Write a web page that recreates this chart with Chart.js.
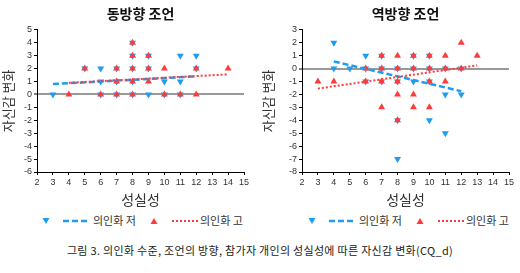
<!DOCTYPE html>
<html>
<head>
<meta charset="utf-8">
<script src="https://cdn.jsdelivr.net/npm/chart.js@4.4.1/dist/chart.umd.min.js"></script>
<style>
  body { margin:0; background:#fff; width:520px; height:273px; position:relative; overflow:hidden;
         font-family:"Noto Sans CJK KR","Noto Sans",sans-serif; color:#222; }
  .box { position:absolute; top:0; width:260px; height:210px; }
  .lg { position:absolute; top:212px; height:16px; font-size:11px; line-height:16px; color:#333; white-space:nowrap; }
  .cap { position:absolute; top:242px; left:0; width:520px; text-align:center; font-size:11px; color:#222; letter-spacing:0.3px; }
</style>
</head>
<body>
<div class="box" style="left:0"><canvas id="same"></canvas></div>
<div class="box" style="left:260px"><canvas id="opp"></canvas></div>

<div id="legend1"></div>
<div id="legend2"></div>
<div class="cap">그림 3. 의인화 수준, 조언의 방향, 참가자 개인의 성실성에 따른 자신감 변화(CQ_d)</div>

<script>
// 성실성 (x) / 자신감 변화 (y)
const titles = ['동방향 조언', '역방향 조언'];
const seriesNames = ['의인화 저', '의인화 고'];

// 동방향 조언
const sameLowX  = [3,5,6,6,6,7,7,7,8,8,8,8,8,9,9,9,10,10,11,11,11,12,12];
const sameLowY  = [0,2,2,1,0,2,1,0,4,3,2,1,0,3,2,0,1,0,3,1,0,3,2];
const sameHighX = [4,5,6,7,7,7,8,8,8,8,8,9,9,9,10,10,11,12,12,14];
const sameHighY = [0,2,0,2,1,0,4,3,2,1,0,3,2,1,2,0,0,2,0,2];
const sameTrendLowX  = [3, 12];
const sameTrendLowY  = [0.8, 1.4];
const sameTrendHighX = [4, 14];
const sameTrendHighY = [0.9, 1.55];

// 역방향 조언
const oppLowX  = [4,4,5,6,6,6,7,7,7,8,8,8,8,9,9,9,10,10,10,10,11,11,11,12,12];
const oppLowY  = [2,0,0,1,0,-1,1,0,-1,0,-1,-4,-7,1,0,-1,1,0,-1,-4,0,-2,-5,0,-2];
const oppHighX = [3,4,6,6,7,7,7,7,8,8,8,8,8,9,9,9,9,10,10,10,10,11,11,11,12,12,13];
const oppHighY = [-1,-1,0,-1,1,0,-1,-3,1,0,-1,-2,-4,1,0,-2,-3,1,0,-1,-3,1,0,-1,2,0,1];
const oppTrendLowX  = [4, 12];
const oppTrendLowY  = [0.55, -1.75];
const oppTrendHighX = [3, 13];
const oppTrendHighY = [-1.55, 0.25];

const BLUE = '#1f9cf0';
const RED = '#ff3a3a';
const tickFont = { family: 'Liberation Sans, Arial, sans-serif', size: 9 };

function pts(xs, ys) { return xs.map((x, i) => ({ x: x, y: ys[i] })); }

function makeChart(id, title, yMin, yMax, yWidth, padRight, d) {
  return new Chart(document.getElementById(id), {
    type: 'scatter',
    data: {
      datasets: [
        { data: pts(d.lowX, d.lowY), pointStyle: 'triangle', rotation: 180, pointRadius: 4,
          backgroundColor: BLUE, borderColor: BLUE, borderWidth: 0, order: 4 },
        { data: pts(d.highX, d.highY), pointStyle: 'triangle', pointRadius: 4,
          backgroundColor: RED, borderColor: RED, borderWidth: 0, order: 3 },
        { type: 'line', data: pts(d.tLowX, d.tLowY), borderColor: BLUE, borderWidth: 2.5,
          borderDash: [6, 3], pointRadius: 0, fill: false, order: 2 },
        { type: 'line', data: pts(d.tHighX, d.tHighY), borderColor: RED, borderWidth: 2,
          borderDash: [2, 2], pointRadius: 0, fill: false, order: 1 }
      ]
    },
    options: {
      responsive: false,
      animation: false,
      layout: { padding: { left: 0, right: padRight, top: 0, bottom: 0 } },
      plugins: {
        legend: { display: false },
        tooltip: { enabled: false },
        title: { display: true, text: title, fullSize: false, color: '#111',
                 font: { family: 'Noto Sans CJK KR', size: 14, weight: 'bold' },
                 padding: { top: 5, bottom: 8 } }
      },
      scales: {
        x: {
          type: 'linear', min: 2, max: 15,
          ticks: { stepSize: 1, autoSkip: false, color: '#333', font: tickFont, padding: 2, maxRotation: 0 },
          grid: { drawOnChartArea: false, tickLength: 3, tickColor: '#000' },
          border: { color: '#000', width: 1 },
          title: { display: true, text: '성실성', color: '#333',
                   font: { family: 'Noto Sans CJK KR', size: 14 }, padding: { top: 0, bottom: 2 } },
          afterFit: s => { s.height = 38; }
        },
        y: {
          min: yMin, max: yMax,
          ticks: { stepSize: 1, autoSkip: false, color: '#333', font: tickFont, padding: 2 },
          grid: {
            color: c => (c.tick && c.tick.value === 0) ? '#999' : 'rgba(0,0,0,0)',
            lineWidth: c => (c.tick && c.tick.value === 0) ? 2 : 1,
            tickColor: '#000', tickWidth: 1, tickLength: 3
          },
          border: { color: '#000', width: 1 },
          title: { display: true, text: '자신감 변화', color: '#333',
                   font: { family: 'Noto Sans CJK KR', size: 13 }, padding: { top: 0, bottom: 2 } },
          afterFit: s => { s.width = yWidth; }
        }
      }
    }
  });
}

['same', 'opp'].forEach(id => {
  const c = document.getElementById(id);
  c.width = 260; c.height = 210;
  c.style.width = '260px'; c.style.height = '210px';
});

makeChart('same', titles[0], -6, 5, 37, 16, {
  lowX: sameLowX, lowY: sameLowY, highX: sameHighX, highY: sameHighY,
  tLowX: sameTrendLowX, tLowY: sameTrendLowY, tHighX: sameTrendHighX, tHighY: sameTrendHighY
});
makeChart('opp', titles[1], -8, 3, 42, 11, {
  lowX: oppLowX, lowY: oppLowY, highX: oppHighX, highY: oppHighY,
  tLowX: oppTrendLowX, tLowY: oppTrendLowY, tHighX: oppTrendHighX, tHighY: oppTrendHighY
});

// 범례
function legendHtml(x0) {
  const tri = (cx, down, col) => down
    ? `<polygon points="${cx-3.5},2 ${cx+3.5},2 ${cx},8" fill="${col}"/>`
    : `<polygon points="${cx-3.5},8 ${cx+3.5},8 ${cx},2" fill="${col}"/>`;
  return `<svg style="position:absolute;left:${x0}px;top:216px" width="200" height="10">
      ${tri(4, true, BLUE)}
      <line x1="21" y1="5" x2="46" y2="5" stroke="${BLUE}" stroke-width="2.5" stroke-dasharray="6,3"/>
      ${tri(112, false, RED)}
      <line x1="130" y1="5" x2="156" y2="5" stroke="${RED}" stroke-width="2" stroke-dasharray="2,2"/>
    </svg>
    <div class="lg" style="left:${x0+51}px">${seriesNames[0]}</div>
    <div class="lg" style="left:${x0+158}px">${seriesNames[1]}</div>`;
}
document.getElementById('legend1').innerHTML = legendHtml(42);
document.getElementById('legend2').innerHTML = legendHtml(308);
</script>
</body>
</html>
